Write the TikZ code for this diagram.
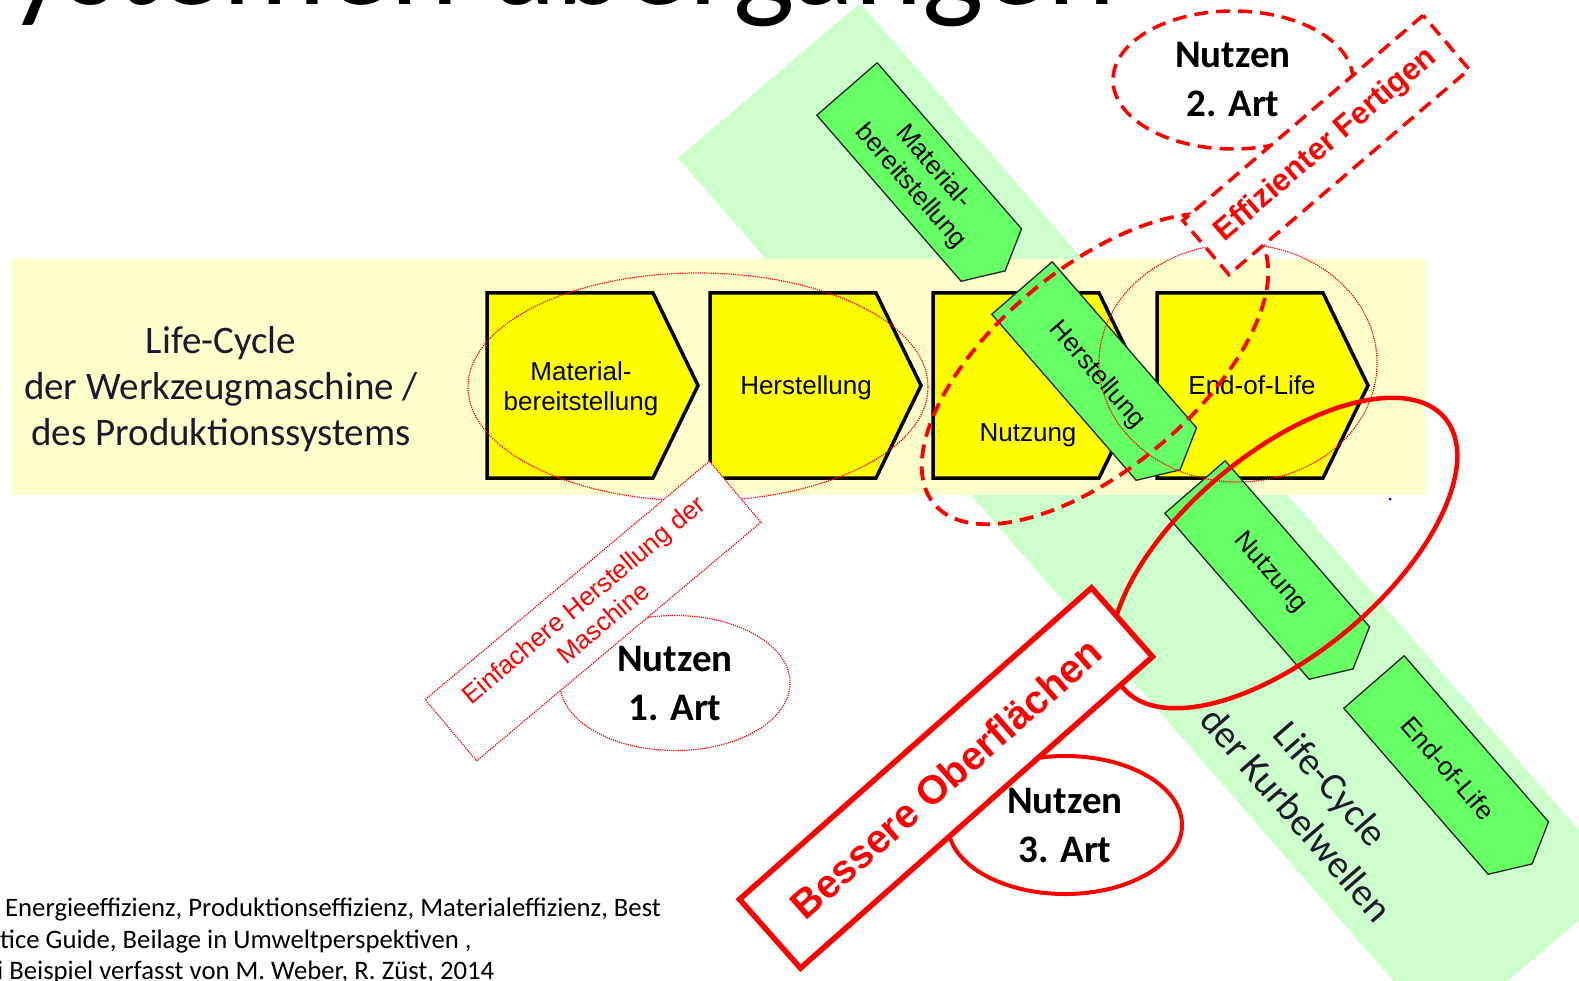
\documentclass[tikz,border=0pt]{standalone}
\usepackage{fontspec}
\setmainfont{Carlito}
\newfontfamily\arialf{Liberation Sans}
\usetikzlibrary{shapes.geometric}
\definecolor{bandyellow}{HTML}{FFFFCC}
\definecolor{bandgreen}{HTML}{CCFFCC}
\definecolor{boxyellow}{HTML}{FFFF00}
\definecolor{arrowgreen}{HTML}{66FF66}
\definecolor{myred}{HTML}{FF0000}
\definecolor{labelink}{HTML}{1A1A2A}
\begin{document}
\begin{tikzpicture}[x=1pt,y=-1pt,line join=miter,
  ybox/.style={draw=black,line width=3.5pt,fill=boxyellow},
  gbox/.style={draw=black!85,line width=1.3pt,fill=arrowgreen},
  ytext/.style={font=\arialf\fontsize{26}{30}\selectfont,align=center,inner sep=0},
  gtext/.style={font=\arialf\fontsize{26}{30}\selectfont,align=center,inner sep=0,rotate=-49},
  nutzen/.style={ellipse,font=\bfseries\fontsize{39}{49}\selectfont,align=center,inner sep=0,minimum width=234,minimum height=138},
  dotline/.style={draw=myred,densely dotted,line width=1.2pt},
  dashline/.style={draw=myred,line width=3.8pt,dash pattern=on 14pt off 8pt},
  solidline/.style={draw=myred,line width=4.5pt},
  bigell/.style={ellipse,minimum width=420,minimum height=200,rotate=40,inner sep=0},
  srcline/.style={anchor=base west,font=\fontsize{26.7}{31}\selectfont,inner sep=0},
  ychev/.pic={\draw[ybox] (0,0) -- (166,0) -- (211,92.5) -- (166,185) -- (0,185) -- cycle;},
  gchev/.pic={\draw[gbox] (0,-40) -- (220,-40) -- (241,0) -- (220,40) -- (0,40) -- cycle;}
]
\useasboundingbox (0,0) rectangle (1579,981);
\clip (0,0) rectangle (1579,981);
% title (cut off at the top edge)
\node[anchor=base west,font=\fontsize{130}{135}\selectfont,inner sep=0] (title) at (-50,5) {Systemen übergängen};
% bands
\fill[bandgreen] (860,3) -- (678,158) -- (1442,1037) -- (1624,882) -- cycle;
\fill[bandyellow] (12,259) rectangle (1425,495);
% yellow chevrons
\pic at (487,293) {ychev};
\pic at (710,293) {ychev};
\pic at (933,293) {ychev};
\pic at (1157,293) {ychev};
\node[ytext] (t1) at (581,389) {Material-\\bereitstellung};
\node[ytext] (t2) at (806,388) {Herstellung};
\node[ytext] (t3) at (1028,435) {Nutzung};
\node[ytext] (t4) at (1252,385) {End-of-Life};
% green chevrons
\pic[rotate=-49] at (847,89) {gchev};
\pic[rotate=-49] at (1022,288) {gchev};
\pic[rotate=-49] at (1195,487) {gchev};
\pic[rotate=-49] at (1374,682) {gchev};
\node[gtext] (g1) at (922,177) {Material-\\bereitstellung};
\node[gtext] (g2) at (1097,375) {Herstellung};
\node[gtext] (g3) at (1270,573) {Nutzung};
\node[gtext] (g4) at (1448,768) {End-of-Life};
% life-cycle labels
\node[align=center,font=\fontsize{39}{46}\selectfont,text=labelink,inner sep=0] (lt) at (221,389) {Life-Cycle\\der Werkzeugmaschine /\\des Produktionssystems};
\node[align=center,font=\fontsize{39}{46}\selectfont,text=labelink,inner sep=0,rotate=-49] (lc) at (1314,799) {Life-Cycle\\der Kurbelwellen};
% scope ellipses
\node[dotline,ellipse,minimum width=460,minimum height=228,inner sep=0] (e12) at (698,387) {};
\node[dotline,ellipse,minimum width=278,minimum height=238,inner sep=0] (e4) at (1238,363) {};
\node[dashline,bigell] (e3) at (1095,369) {};
\node[solidline,bigell] (e34) at (1284,553) {};
% benefit ellipses
\node[nutzen,dotline,minimum width=230,minimum height=135] (n1) at (675,683) {Nutzen\\1. Art};
\node[nutzen,dashline,line width=3.5pt,minimum width=240] (n2) at (1233,80) {Nutzen\\2. Art};
\node[nutzen,solidline,line width=4pt] (n3) at (1065,825) {Nutzen\\3. Art};
% benefit boxes
\node[dotline,fill=white,rotate=40,minimum width=371,minimum height=80,inner sep=0,font=\arialf\fontsize{26}{30}\selectfont,text=myred,align=center] (b1) at (593,611) {Einfachere Herstellung der\\Maschine};
\node[dashline,line width=3.5pt,fill=white,rotate=40.5,minimum width=316,minimum height=71,inner sep=0,font=\arialf\bfseries\fontsize{31}{34}\selectfont,text=myred] (b2) at (1326,145) {Effizienter Fertigen};
\node[solidline,line width=5.5pt,fill=white,rotate=41.5,minimum width=470,minimum height=92,inner sep=0,font=\arialf\bfseries\fontsize{40}{44}\selectfont,text=myred] (b3) at (946,778) {Bessere Oberflächen};
% stray dot
\fill[blue] (1390,499) circle (1.5);
% source text (cut off at the left edge)
\node[srcline] (s1) at (5,916) {Energieeffizienz, Produktionseffizienz, Materialeffizienz, Best};
\node[srcline] (s2) at (0,948) {tice Guide, Beilage in Umweltperspektiven ,};
\node[srcline] (s3) at (-3,979) {i Beispiel verfasst von M. Weber, R. Züst, 2014};
\end{tikzpicture}
\end{document}
